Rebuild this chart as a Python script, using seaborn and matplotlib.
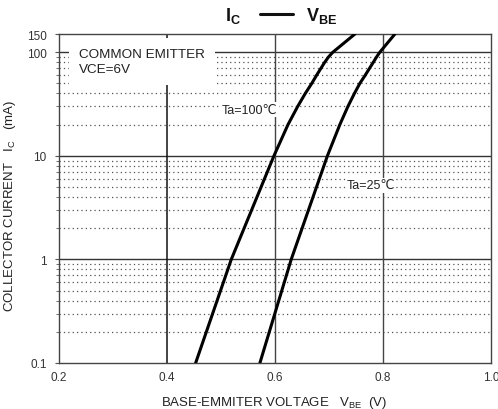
import numpy as np
import pandas as pd
import seaborn as sns
import matplotlib.pyplot as plt
from matplotlib.lines import Line2D
from matplotlib.ticker import FixedLocator, NullFormatter

# data
ic_ma = [0.1, 1, 10, 20, 30, 40, 50, 60, 70, 80, 90, 100, 150]
vbe_100 = [0.453, 0.519, 0.598, 0.624, 0.642, 0.656, 0.668, 0.677, 0.685,
           0.692, 0.699, 0.707, 0.748]
vbe_25 = [0.572, 0.630, 0.697, 0.720, 0.735, 0.747, 0.757, 0.767, 0.775,
          0.782, 0.788, 0.794, 0.822]
x_ticks = [0.2, 0.4, 0.6, 0.8, 1.0]
x_ticklabels = ["0.2", "0.4", "0.6", "0.8", "1.0"]
y_ticks = [0.1, 1, 10, 100, 150]
y_ticklabels = ["0.1", "1", "10", "100", "150"]

sns.set_style("white")
plt.rcParams['font.family'] = ['Liberation Sans', 'DejaVu Sans']

df = pd.concat([
    pd.DataFrame({"vbe": vbe_100, "ic": ic_ma, "ta": "100"}),
    pd.DataFrame({"vbe": vbe_25, "ic": ic_ma, "ta": "25"}),
])

fig = plt.figure(figsize=(4.98, 4.10), dpi=100)
ax = fig.add_axes([0.1185, 0.1122, 0.8675, 0.8024])
ax.set_yscale("log")
ax.set_xlim(0.2, 1.0)
ax.set_ylim(0.1, 150)

# grid: dotted minor rows, solid decades and verticals
minor = [m * d for d in (0.1, 1, 10) for m in range(2, 10)]
for y in minor:
    ax.axhline(y, color="#555555", lw=0.9, ls=(0, (1, 2.5)), zorder=1)
for y in (1, 10, 100):
    ax.axhline(y, color="#333333", lw=1.0, zorder=1)
ax.axvline(0.4, color="#111111", lw=1.1, zorder=1)
for x in (0.6, 0.8):
    ax.axvline(x, color="#444444", lw=1.0, zorder=1)

sns.lineplot(data=df, x="vbe", y="ic", units="ta", estimator=None, sort=False,
             color="black", lw=2.2, ax=ax, zorder=3)

ax.xaxis.set_major_locator(FixedLocator(x_ticks))
ax.set_xticklabels(x_ticklabels)
ax.yaxis.set_major_locator(FixedLocator(y_ticks))
ax.set_yticklabels(y_ticklabels)
ax.yaxis.set_minor_locator(FixedLocator(minor))
ax.yaxis.set_minor_formatter(NullFormatter())
ax.tick_params(axis="both", labelsize=8.5, colors="#333333", length=0, pad=6)
ax.tick_params(axis="y", which="minor", length=2, color="#555555", left=True)
ax.tick_params(axis="y", which="major", length=3, color="#555555", left=True)
for s in ax.spines.values():
    s.set_color("#444444")
    s.set_linewidth(1.0)

# white box behind the heading text
ax.text(0.237, 82, "COMMON EMITTER\nVCE=6V", fontsize=9.7, color="#222222",
        va="center", ha="left", linespacing=1.3, zorder=4,
        bbox=dict(boxstyle="square,pad=0.75", fc="white", ec="none"))
ax.text(0.502, 28, "Ta=100\u2103", fontsize=9, color="#222222", va="center",
        zorder=4, bbox=dict(boxstyle="square,pad=0.1", fc="white", ec="none"))
ax.text(0.733, 5.2, "Ta=25\u2103", fontsize=9, color="#222222", va="center",
        zorder=4, bbox=dict(boxstyle="square,pad=0.1", fc="white", ec="none"))

ax.set_xlabel(r"BASE-EMMITER VOLTAGE   V$_{\mathregular{BE}}$  (V)", fontsize=9.5,
              color="#222222")
ax.xaxis.set_label_coords(0.498, -0.095)
ax.set_ylabel(r"COLLECTOR CURRENT   I$_{\mathregular{C}}$   (mA)", fontsize=9.5,
              color="#222222")
ax.yaxis.set_label_coords(-0.095, 0.48)

# title: I_C —— V_BE
fig.text(0.468, 0.962, r"I$_{\mathregular{C}}$", ha="center", va="center",
         fontsize=13, fontweight="bold", color="#111111")
fig.add_artist(Line2D([0.522, 0.588], [0.963, 0.963], transform=fig.transFigure,
                      color="#111111", lw=2.2))
fig.text(0.646, 0.962, r"V$_{\mathregular{BE}}$", ha="center", va="center",
         fontsize=13, fontweight="bold", color="#111111")

fig.savefig("out.png", dpi=100)
